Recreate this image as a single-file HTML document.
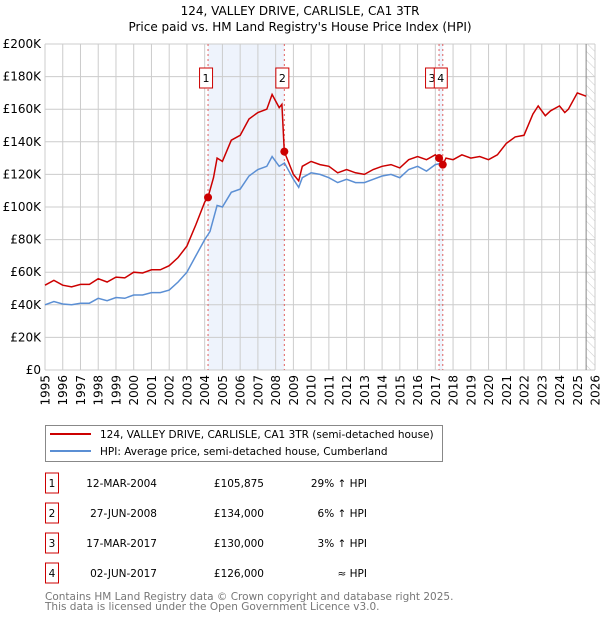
<!DOCTYPE html>
<html><head><meta charset="utf-8"><style>
body{margin:0;background:#fff;width:600px;height:620px;overflow:hidden;font-family:"DejaVu Sans","Liberation Sans",sans-serif}
svg text{font-family:"DejaVu Sans","Liberation Sans",sans-serif}
</style></head><body>
<svg id="c" width="600" height="620" xmlns="http://www.w3.org/2000/svg">
<text x="300" y="15" text-anchor="middle" font-size="12">124, VALLEY DRIVE, CARLISLE, CA1 3TR</text>
<text x="300" y="31" text-anchor="middle" font-size="12">Price paid vs. HM Land Registry's House Price Index (HPI)</text>
<g id="plot"></g>
<rect x="45.5" y="425.5" width="397" height="36" fill="#fff" stroke="#888"/>
<line x1="50" y1="434" x2="91" y2="434" stroke="#cc0000" stroke-width="2"/>
<text x="100" y="438" font-size="10.5">124, VALLEY DRIVE, CARLISLE, CA1 3TR (semi-detached house)</text>
<line x1="50" y1="451" x2="91" y2="451" stroke="#5b8fd4" stroke-width="2"/>
<text x="100" y="455" font-size="10.5">HPI: Average price, semi-detached house, Cumberland</text>
<g id="table" font-size="10.5"></g>
<text x="45" y="600" font-size="10.5" fill="#777">Contains HM Land Registry data © Crown copyright and database right 2025.</text>
<text x="45" y="610" font-size="10.5" fill="#777">This data is licensed under the Open Government Licence v3.0.</text>
</svg>
<script>
const yTicks=[0,20,40,60,80,100,120,140,160,180,200];
const xYears=[1995,1996,1997,1998,1999,2000,2001,2002,2003,2004,2005,2006,2007,2008,2009,2010,2011,2012,2013,2014,2015,2016,2017,2018,2019,2020,2021,2022,2023,2024,2025,2026];
const redT=[1995,1995.5,1996,1996.5,1997,1997.5,1998,1998.5,1999,1999.5,2000,2000.5,2001,2001.5,2002,2002.5,2003,2003.5,2004,2004.19,2004.5,2004.7,2005,2005.5,2006,2006.5,2007,2007.5,2007.8,2008.2,2008.35,2008.49,2009,2009.3,2009.5,2010,2010.5,2011,2011.5,2012,2012.5,2013,2013.5,2014,2014.5,2015,2015.5,2016,2016.5,2017,2017.21,2017.42,2017.6,2018,2018.5,2019,2019.5,2020,2020.5,2021,2021.5,2022,2022.5,2022.8,2023.2,2023.5,2024,2024.3,2024.5,2025,2025.5];
const redV=[52,55,52,51,52.5,52.5,56,54,57,56.5,60,59.5,61.5,61.5,64,69,76,89,103,106,118,130,128,141,144,154,158,160,169,161,163,134,120,116,125,128,126,125,121,123,121,120,123,125,126,124,129,131,129,132,130,126,130,129,132,130,131,129,132,139,143,144,157,162,156,159,162,158,160,170,168];
const blueT=[1995,1995.5,1996,1996.5,1997,1997.5,1998,1998.5,1999,1999.5,2000,2000.5,2001,2001.5,2002,2002.5,2003,2003.5,2004,2004.3,2004.7,2005,2005.5,2006,2006.5,2007,2007.5,2007.8,2008.2,2008.5,2009,2009.3,2009.5,2010,2010.5,2011,2011.5,2012,2012.5,2013,2013.5,2014,2014.5,2015,2015.5,2016,2016.5,2017,2017.4];
const blueV=[40,42,40.5,40,41,41,44,42.5,44.5,44,46,46,47.5,47.5,49,54,60,70,80,85,101,100,109,111,119,123,125,131,125,127,117,112,118,121,120,118,115,117,115,115,117,119,120,118,123,125,122,126,127];
const saleT=[2004.19,2008.49,2017.21,2017.42];
const saleV=[105.875,134,130,126];
const saleDates=["12-MAR-2004","27-JUN-2008","17-MAR-2017","02-JUN-2017"];
const salePrices=["£105,875","£134,000","£130,000","£126,000"];
const saleHpi=["29% ↑ HPI","6% ↑ HPI","3% ↑ HPI","≈ HPI"];
const X0=45,X1=595,Y0=370,Y1=44;
const sx=t=>X0+(t-1995)/(2026-1995)*(X1-X0);
const sy=v=>Y0-v/200*(Y0-Y1);
const NS="http://www.w3.org/2000/svg";
const plot=document.getElementById('plot');
function mk(tag,attrs,parent){const e=document.createElementNS(NS,tag);for(const k in attrs)e.setAttribute(k,attrs[k]);(parent||plot).appendChild(e);return e;}
let s=mk('rect',{x:sx(saleT[0]),y:Y1,width:sx(saleT[1])-sx(saleT[0]),height:Y0-Y1,fill:'#eef3fc'});


s=mk('rect',{x:sx(saleT[2]),y:Y1,width:sx(saleT[3])-sx(saleT[2]),height:Y0-Y1,fill:'#eef3fc'});


const defs=mk('defs',{});
const pat=mk('pattern',{id:'h',width:6,height:6,patternUnits:'userSpaceOnUse',patternTransform:'rotate(-45)'},defs);
mk('line',{x1:0,y1:0,x2:0,y2:6,stroke:'#ccc','stroke-width':1},pat);
s=mk('rect',{x:sx(2025.5),y:Y1,width:X1-sx(2025.5),height:Y0-Y1,fill:'url(#h)'});


yTicks.forEach(v=>{const l=mk('line',{x1:X0,x2:X1,y1:sy(v),y2:sy(v),stroke:'#ccc'});


const t=mk('text',{x:X0-4,y:sy(v)+4,'text-anchor':'end','font-size':12});t.textContent='£'+(v?v+'K':'0');

});
xYears.forEach(y=>{const l=mk('line',{x1:sx(y),x2:sx(y),y1:Y1,y2:Y0,stroke:'#ccc'});


const t=mk('text',{x:0,y:0,'text-anchor':'end','font-size':12,transform:`translate(${sx(y)+4.5},${Y0+5}) rotate(-90)`});t.textContent=y;

});
let ln=mk('line',{x1:sx(2025.5),x2:sx(2025.5),y1:Y1,y2:Y0,stroke:'#888'});


saleT.forEach((t,i)=>{const l=mk('line',{x1:sx(t),x2:sx(t),y1:Y1,y2:Y0,stroke:'#e06060','stroke-dasharray':'2,3'});

});
const path=(T,V)=>T.map((t,i)=>(i?'L':'M')+sx(t).toFixed(1)+','+sy(V[i]).toFixed(1)).join('');
let p=mk('path',{d:path(blueT,blueV),fill:'none',stroke:'#5b8fd4','stroke-width':1.5});


p=mk('path',{d:path(redT,redV),fill:'none',stroke:'#cc0000','stroke-width':1.5});


saleT.forEach((t,i)=>{const c=mk('circle',{cx:sx(t),cy:sy(saleV[i]),r:4,fill:'#cc0000'});

});
const offs=[0,0,-5,0];
saleT.forEach((t,i)=>{const g=mk('g',{});


mk('rect',{x:sx(t)+offs[i]-8.5,y:68,width:13,height:20,fill:'#fff',stroke:'#cc0000'},g);
const tx=mk('text',{x:sx(t)+offs[i]-2,y:82,'text-anchor':'middle','font-size':11},g);tx.textContent=i+1;});
const tb=document.getElementById('table');
[483,513,543,573].forEach((cy,i)=>{const g=mk('g',{},tb);


mk('rect',{x:45.5,y:cy-10,width:13,height:20,fill:'#fff',stroke:'#cc0000'},g);
let t=mk('text',{x:52,y:cy+4,'text-anchor':'middle'},g);t.textContent=i+1;
t=mk('text',{x:157,y:cy+4,'text-anchor':'end'},g);t.textContent=saleDates[i];
t=mk('text',{x:264,y:cy+4,'text-anchor':'end'},g);t.textContent=salePrices[i];
t=mk('text',{x:367,y:cy+4,'text-anchor':'end'},g);t.textContent=saleHpi[i];});
</script>
</body></html>
